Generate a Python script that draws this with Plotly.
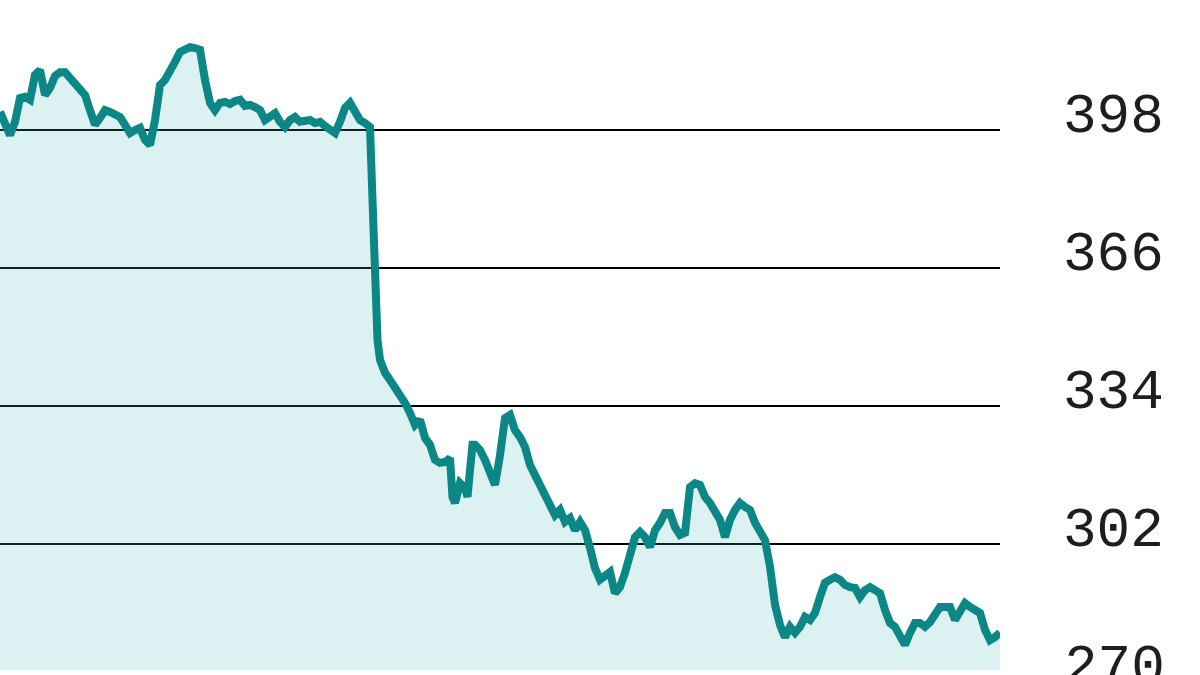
import plotly.graph_objects as go

# trading-day index and closing values
days = [0, 2, 4, 6, 8, 10, 12, 14, 16, 18, 20, 22, 24, 26, 28, 30, 32, 34, 36, 38,
        40, 42, 44, 46, 48, 50, 52, 54, 56, 58, 60, 62, 64, 66, 68, 70, 72, 74, 76, 78,
        80, 82, 84, 86, 88, 90, 92, 94, 96, 98, 100, 102, 104, 106, 108, 110, 112, 114, 116, 118,
        120, 122, 124, 126, 128, 130, 132, 134, 136, 138, 140, 142, 144, 146, 148, 149, 150, 151, 152, 154,
        156, 158, 160, 162, 164, 166, 168, 170, 172, 174, 176, 178, 180, 181, 182, 184, 186, 187, 188, 189,
        190, 192, 194, 196, 198, 200, 202, 204, 206, 208, 210, 212, 214, 216, 218, 220, 222, 224, 226, 228,
        230, 232, 234, 236, 238, 240, 242, 244, 246, 248, 250, 252, 254, 256, 258, 260, 262, 264, 266, 268,
        270, 272, 274, 276, 278, 280, 282, 284, 286, 288, 290, 292, 294, 296, 298, 300, 302, 304, 306, 308,
        310, 312, 314, 316, 318, 320, 322, 324, 326, 328, 330, 332, 334, 336, 338, 340, 342, 344, 346, 348,
        350, 352, 354, 356, 358, 360, 362, 364, 366, 368, 370, 372, 374, 376, 378, 380, 382, 384, 386, 388,
        390, 392, 394, 396, 398, 400]

values = [402.2, 399.2, 396.8, 399.9, 405.4, 405.7, 405.0, 410.8, 411.9, 406.1, 407.7, 410.5, 411.4, 411.4, 410.1, 408.9, 408.0, 406.1, 402.6, 399.2,
          400.8, 402.6, 402.2, 401.5, 401.0, 399.2, 397.3, 398.0, 398.5, 395.7, 394.5, 400.3, 408.4, 409.6, 411.4, 413.8, 416.1, 416.6, 417.2, 417.0,
          416.6, 409.6, 404.3, 402.6, 404.3, 404.5, 404.0, 404.7, 405.0, 403.6, 403.8, 403.3, 402.6, 400.3, 401.0, 401.9, 399.9, 398.7, 400.3, 401.0,
          399.9, 400.1, 400.3, 399.6, 399.9, 398.9, 398.0, 397.3, 399.9, 403.1, 404.3, 402.2, 400.3, 399.6, 398.7, 381.8, 358.6, 349.3, 344.7, 341.7,
          340.0, 338.4, 336.6, 334.7, 332.4, 329.6, 330.8, 326.6, 325.0, 321.5, 320.8, 321.0, 321.9, 312.9, 311.5, 316.1, 315.0, 312.9, 319.2, 325.0,
          325.0, 323.8, 321.5, 318.0, 315.7, 322.6, 331.2, 331.9, 328.4, 326.8, 324.5, 320.3, 318.0, 315.7, 314.1, 311.5, 308.7, 309.9, 307.1, 308.0,
          305.2, 307.1, 305.2, 301.1, 296.4, 293.7, 294.8, 295.5, 290.6, 292.0, 295.3, 299.9, 303.6, 304.8, 303.6, 301.3, 305.2, 306.9, 309.2, 309.2,
          305.9, 304.1, 304.6, 315.2, 316.1, 315.7, 312.9, 311.5, 309.9, 307.6, 303.6, 307.6, 309.9, 311.5, 310.6, 309.9, 306.9, 305.2, 302.9, 296.7,
          287.9, 283.2, 280.4, 282.8, 281.4, 282.8, 285.1, 284.4, 286.0, 289.7, 293.0, 293.7, 294.3, 293.7, 292.5, 292.0, 291.8, 289.7, 291.3, 292.0,
          291.3, 290.6, 286.7, 283.7, 282.8, 280.4, 278.6, 281.4, 283.7, 283.7, 282.8, 283.9, 286.0, 287.4, 287.4, 287.4, 284.4, 286.7, 288.3, 287.4,
          286.7, 286.0, 282.1, 279.7, 280.4, 281.4]

tick_values = [302, 334, 366, 398]
tick_labels = ["302", "334", "366", "398"]
cut_label_text = "270"

LINE = "#0b8786"
FILL = "rgba(70,185,185,0.19)"   # light teal, lets the black grid show through
FONT = "Courier New, Liberation Mono, monospace"
TEXT = "#1e1e1e"

fig = go.Figure()
fig.add_trace(go.Scatter(
    x=days, y=values, mode="lines",
    line=dict(color=LINE, width=8),
    fill="tozeroy", fillcolor=FILL,
    hoverinfo="skip", showlegend=False,
))

fig.update_layout(
    width=1200, height=675,
    margin=dict(l=0, r=200, t=0, b=5),
    paper_bgcolor="white", plot_bgcolor="white",
    showlegend=False,
    xaxis=dict(range=[0, 400], showgrid=False, zeroline=False, showticklabels=False,
               showline=False, ticks=""),
    yaxis=dict(range=[272.78, 428.14], side="right",
               tickvals=tick_values, ticktext=tick_labels,
               showgrid=True, gridcolor="black", gridwidth=2,
               zeroline=False, showline=False, ticks="",
               tickfont=dict(family=FONT, size=56, color=TEXT),
               ticklabelstandoff=62, ticklabelshift=-18),
    annotations=[dict(
        text=cut_label_text, xref="paper", yref="paper", x=1, y=0,
        xanchor="left", yanchor="middle", xshift=62, yshift=2,
        showarrow=False, font=dict(family=FONT, size=56, color=TEXT),
    )],
)

fig.write_html("out.html", config={"displayModeBar": False, "staticPlot": True},
               post_script="document.body.style.margin='0';")
